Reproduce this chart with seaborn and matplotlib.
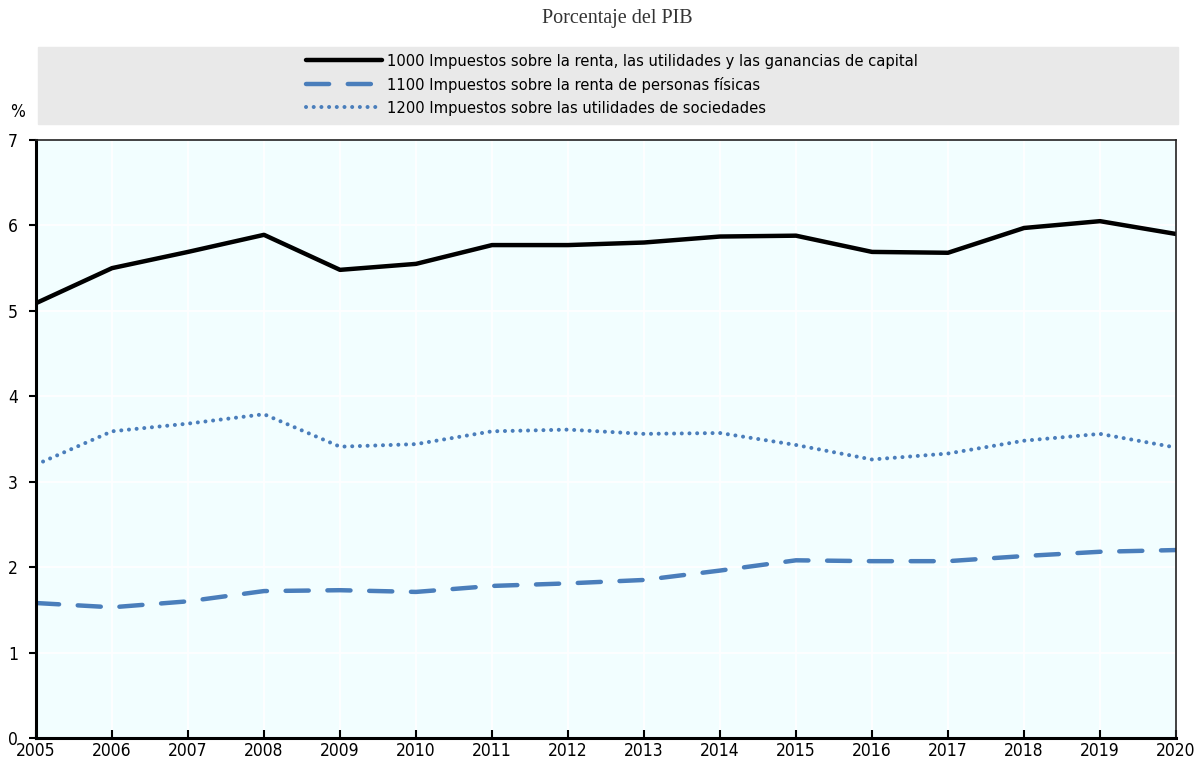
import pandas as pd
import matplotlib.pyplot as plt
import seaborn as sns
from matplotlib.patches import Rectangle

### chart data
years = list(range(2005, 2021))
total_1000 = [5.09, 5.50, 5.69, 5.89, 5.48, 5.55, 5.77, 5.77, 5.80, 5.87, 5.88, 5.69, 5.68, 5.97, 6.05, 5.90]
personal_1100 = [1.58, 1.53, 1.60, 1.72, 1.73, 1.71, 1.78, 1.81, 1.85, 1.96, 2.08, 2.07, 2.07, 2.13, 2.18, 2.20]
corporate_1200 = [3.20, 3.59, 3.68, 3.79, 3.41, 3.44, 3.59, 3.61, 3.56, 3.57, 3.43, 3.26, 3.33, 3.48, 3.56, 3.40]
labels = [
    '1000 Impuestos sobre la renta, las utilidades y las ganancias de capital',
    '1100 Impuestos sobre la renta de personas físicas',
    '1200 Impuestos sobre las utilidades de sociedades',
]
subtitle = 'Porcentaje del PIB'

BLUE = '#4a7ebb'

sns.set_theme(style='white')
plt.rcParams['font.family'] = ['DejaVu Sans']
plt.rcParams['font.stretch'] = 'condensed'
plt.rcParams['text.color'] = 'black'
plt.rcParams['xtick.color'] = 'black'
plt.rcParams['ytick.color'] = 'black'

df = pd.DataFrame({'year': years, 'a': total_1000, 'b': personal_1100, 'c': corporate_1200})

fig = plt.figure(figsize=(11.97, 7.64), dpi=100)
ax = fig.add_axes([36 / 1197, 1 - 738 / 764, 1140 / 1197, 598 / 764])
ax.set_facecolor('#f2feff')

sns.lineplot(data=df, x='year', y='a', ax=ax, color='black', lw=3.2, label=labels[0])
sns.lineplot(data=df, x='year', y='b', ax=ax, color=BLUE, lw=3.2, label=labels[1],
             linestyle=(0, (5.2, 4.2)), dash_capstyle='round')
sns.lineplot(data=df, x='year', y='c', ax=ax, color=BLUE, lw=2.9, label=labels[2],
             linestyle=(0, (0.01, 1.9)), dash_capstyle='round')

ax.set_xlim(2005, 2020)
ax.set_ylim(0, 7)
ax.set_xticks(years)
ax.set_yticks(range(0, 8))
ax.grid(True, color='white', lw=1.3)
ax.set_xlabel('')
ax.set_ylabel('')

for side in ['left', 'bottom']:
    ax.spines[side].set_linewidth(2.2)
    ax.spines[side].set_color('black')
for side in ['top', 'right']:
    ax.spines[side].set_linewidth(1.2)
    ax.spines[side].set_color('#222222')

ax.tick_params(axis='x', direction='in', length=6, width=1.5, color='black',
               labelsize=12.5, pad=3, bottom=True)
ax.tick_params(axis='y', direction='out', length=5, width=1.5, color='black',
               labelsize=12.5, pad=8, left=True)

# gray legend band
fig.patches.append(Rectangle((38 / 1197, 1 - 124 / 764), 1140 / 1197, 77 / 764,
                             transform=fig.transFigure, color='#e9e9e9', zorder=0))
handles, lbls = ax.get_legend_handles_labels()
ax.legend_.remove()
fig.legend(handles, lbls, loc='center', bbox_to_anchor=(612 / 1197, 1 - 85 / 764),
           frameon=False, fontsize=11.8, handlelength=4.6, handletextpad=0.3,
           labelspacing=0.5, borderpad=0)

fig.text(18 / 1197, 1 - 112 / 764, '%', ha='center', va='center', fontsize=12.5)
fig.text(617 / 1197, 1 - 19 / 764, subtitle, ha='center', va='center',
         fontsize=14.5, family=['Liberation Serif', 'DejaVu Serif'], color='#333333')

plt.savefig('out.png', dpi=100)
